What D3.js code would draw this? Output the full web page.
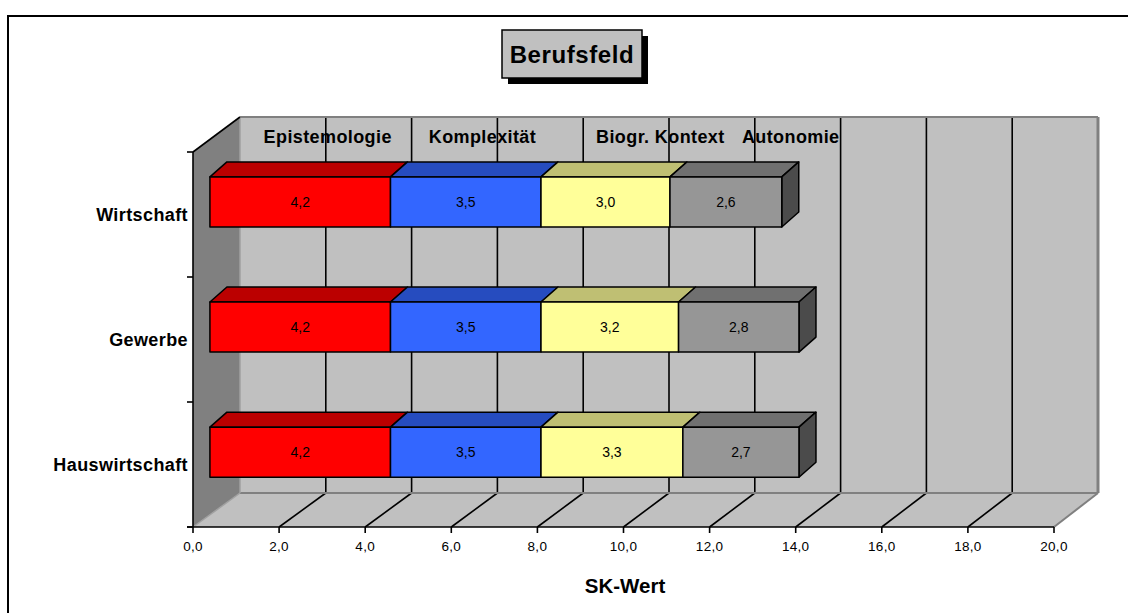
<!DOCTYPE html>
<html>
<head>
<meta charset="utf-8">
<script src="https://cdn.jsdelivr.net/npm/d3@7"></script>
<style>
  html, body { margin: 0; padding: 0; background: #fff; }
  svg { display: block; font-family: "Liberation Sans", Arial, sans-serif; }
</style>
</head>
<body>
<svg id="chart" width="1128" height="613"></svg>
<script>
// Categories (rows) and series values (stacked left to right)
const categories = ["Wirtschaft", "Gewerbe", "Hauswirtschaft"];
const seriesNames = ["Epistemologie", "Komplexität", "Biogr. Kontext", "Autonomie"];
const epistemologie = [4.2, 4.2, 4.2];
const komplexitaet = [3.5, 3.5, 3.5];
const biogrKontext = [3.0, 3.2, 3.3];
const autonomie = [2.6, 2.8, 2.7];
const xTicks = [0, 2, 4, 6, 8, 10, 12, 14, 16, 18, 20];
const xTickLabels = ["0,0", "2,0", "4,0", "6,0", "8,0", "10,0", "12,0", "14,0", "16,0", "18,0", "20,0"];

// Where the series names sit on the back wall (in axis units)
const seriesLabelAt = [0.55, 4.4, 8.3, 11.7];

const seriesValues = [epistemologie, komplexitaet, biogrKontext, autonomie];
const seriesFill = ["#ff0000", "#3366ff", "#ffff99", "#969696"];
const seriesTop  = ["#bb0000", "#264cbf", "#bfbf73", "#707070"];
const seriesSide = ["#800000", "#1a3380", "#80804d", "#4b4b4b"];

const svg = d3.select("#chart");

// Outer chart frame (continues past the visible area at right and bottom)
svg.append("rect")
  .attr("x", 8).attr("y", 16).attr("width", 1300).attr("height", 800)
  .attr("fill", "#fff").attr("stroke", "#000").attr("stroke-width", 2);

// 3D projection: front plane and back plane scales, interpolated by depth z
const xFront = d3.scaleLinear().domain([0, 20]).range([193, 1054]);
const xBack  = d3.scaleLinear().domain([0, 20]).range([240, 1098]);
const yFront = d3.scaleLinear().domain([0, 1]).range([152, 527]);
const yBack  = d3.scaleLinear().domain([0, 1]).range([117, 493]);
const band = d3.scaleBand().domain(categories).range([0, 1]).paddingInner(0.6).paddingOuter(0.3);

function P(v, f, z) {
  return [xFront(v) + (xBack(v) - xFront(v)) * z, yFront(f) + (yBack(f) - yFront(f)) * z];
}
const poly = pts => "M" + pts.map(p => p.join(",")).join("L") + "Z";
const [vMin, vMax] = xFront.domain();

const walls = svg.append("g");
// Left wall
walls.append("path")
  .attr("d", poly([P(vMin, 0, 0), P(vMin, 0, 1), P(vMin, 1, 1), P(vMin, 1, 0)]))
  .attr("fill", "#808080");
// Back wall
walls.append("path")
  .attr("d", poly([P(vMin, 0, 1), P(vMax, 0, 1), P(vMax, 1, 1), P(vMin, 1, 1)]))
  .attr("fill", "#c0c0c0");
// Floor
walls.append("path")
  .attr("d", poly([P(vMin, 1, 0), P(vMax, 1, 0), P(vMax, 1, 1), P(vMin, 1, 1)]))
  .attr("fill", "#c0c0c0");

// Gridlines: vertical on the back wall, diagonal on the floor
const inner = xTicks.filter(t => t > vMin && t < vMax);
walls.selectAll("line.gback").data(inner).join("line")
  .attr("x1", d => P(d, 0, 1)[0]).attr("y1", d => P(d, 0, 1)[1])
  .attr("x2", d => P(d, 1, 1)[0]).attr("y2", d => P(d, 1, 1)[1])
  .attr("stroke", "#000").attr("stroke-width", 1.6);
walls.selectAll("line.gfloor").data(inner).join("line")
  .attr("x1", d => P(d, 1, 0)[0]).attr("y1", d => P(d, 1, 0)[1])
  .attr("x2", d => P(d, 1, 1)[0]).attr("y2", d => P(d, 1, 1)[1])
  .attr("stroke", "#000").attr("stroke-width", 1.6);

// Wall edges
const edge = (a, b, color, w) => walls.append("line")
  .attr("x1", a[0]).attr("y1", a[1]).attr("x2", b[0]).attr("y2", b[1])
  .attr("stroke", color).attr("stroke-width", w);
edge(P(vMin, 0, 1), P(vMax, 0, 1), "#808080", 2);
edge(P(vMax, 0, 1), P(vMax, 1, 1), "#808080", 3);
edge(P(vMax, 1, 1), P(vMax, 1, 0), "#808080", 2);
edge(P(vMin, 1, 1), P(vMax, 1, 1), "#808080", 2);
edge(P(vMin, 0, 1), P(vMin, 1, 1), "#a0a0a0", 1.5);
edge(P(vMin, 1, 0), P(vMin, 1, 1), "#a0a0a0", 1.5);
edge(P(vMin, 0, 0), P(vMin, 0, 1), "#000", 1.6);

// Series names along the top of the back wall
svg.append("g").selectAll("text").data(seriesNames).join("text")
  .attr("x", (d, i) => P(seriesLabelAt[i], 0, 1)[0])
  .attr("y", P(0, 0, 1)[1] + 26)
  .attr("font-size", 18).attr("font-weight", "bold").attr("letter-spacing", 0.4)
  .attr("fill", "#000")
  .text(d => d);

// Stacked 3D bars
const zBar = 0.36;          // depth of the bar front face
const dX = 17, dY = -15;    // bar depth offset
const stackData = categories.map((c, ci) => {
  let acc = 0;
  return seriesValues.map((vals, si) => {
    const s = { cat: c, si, v0: acc, v1: acc + vals[ci], value: vals[ci] };
    acc += vals[ci];
    return s;
  });
});

const bars = svg.append("g");
stackData.forEach(row => {
  const g = bars.append("g");
  row.forEach((s, idx) => {
    const fTop = band(s.cat), fBot = band(s.cat) + band.bandwidth();
    const a = P(s.v0, fTop, zBar), b = P(s.v1, fTop, zBar);
    const c = P(s.v1, fBot, zBar), d = P(s.v0, fBot, zBar);
    // top face
    g.append("path")
      .attr("d", poly([a, b, [b[0] + dX, b[1] + dY], [a[0] + dX, a[1] + dY]]))
      .attr("fill", seriesTop[s.si])
      .attr("stroke", "#000").attr("stroke-width", 1.5).attr("stroke-linejoin", "round");
    // right end face on the last segment
    if (idx === row.length - 1) {
      g.append("path")
        .attr("d", poly([b, [b[0] + dX, b[1] + dY], [c[0] + dX, c[1] + dY], c]))
        .attr("fill", seriesSide[s.si])
        .attr("stroke", "#000").attr("stroke-width", 1.5).attr("stroke-linejoin", "round");
    }
    // front face
    g.append("path")
      .attr("d", poly([a, b, c, d]))
      .attr("fill", seriesFill[s.si])
      .attr("stroke", "#000").attr("stroke-width", 1.5).attr("stroke-linejoin", "round");
    // value label
    g.append("text")
      .attr("x", (a[0] + b[0]) / 2).attr("y", (a[1] + d[1]) / 2)
      .attr("text-anchor", "middle").attr("dy", "0.35em")
      .attr("font-size", 14).attr("fill", "#000")
      .text(d3.format(".1f")(s.value).replace(".", ","));
  });
});

// Axes
const axes = svg.append("g").attr("stroke", "#000").attr("stroke-width", 1.6);
axes.append("line")
  .attr("x1", xFront(vMin)).attr("y1", yFront(0))
  .attr("x2", xFront(vMin)).attr("y2", yFront(1));
axes.append("line")
  .attr("x1", xFront(vMin) - 6).attr("y1", yFront(1))
  .attr("x2", xFront(vMax)).attr("y2", yFront(1));
const yTickPos = d3.range(categories.length + 1).map(i => i / categories.length);
axes.selectAll("line.yt").data(yTickPos).join("line")
  .attr("x1", xFront(vMin) - 6).attr("x2", xFront(vMin))
  .attr("y1", d => yFront(d)).attr("y2", d => yFront(d));
axes.selectAll("line.xt").data(xTicks).join("line")
  .attr("x1", d => xFront(d)).attr("x2", d => xFront(d))
  .attr("y1", yFront(1)).attr("y2", yFront(1) + 6);

// Tick labels
svg.append("g").selectAll("text").data(xTicks).join("text")
  .attr("x", d => xFront(d)).attr("y", yFront(1) + 24)
  .attr("text-anchor", "middle").attr("font-size", 13.5).attr("letter-spacing", 0.3)
  .text((d, i) => xTickLabels[i]);

// Category labels
svg.append("g").selectAll("text").data(categories).join("text")
  .attr("x", xFront(vMin) - 5)
  .attr("y", d => yFront(band(d) + band.bandwidth() / 2))
  .attr("dy", "0.35em").attr("text-anchor", "end")
  .attr("font-size", 18).attr("font-weight", "bold").attr("letter-spacing", 0.4)
  .text(d => d);

// Axis title
svg.append("text")
  .attr("x", 625).attr("y", 593).attr("text-anchor", "middle")
  .attr("font-size", 20.5).attr("font-weight", "bold")
  .text("SK-Wert");

// Chart title with drop shadow box
const title = svg.append("g");
title.append("rect").attr("x", 508).attr("y", 36).attr("width", 140).attr("height", 48).attr("fill", "#000");
title.append("rect").attr("x", 502).attr("y", 30).attr("width", 140).attr("height", 48)
  .attr("fill", "#c0c0c0").attr("stroke", "#000").attr("stroke-width", 1.5);
title.append("text").attr("x", 572).attr("y", 63).attr("text-anchor", "middle")
  .attr("font-size", 24).attr("font-weight", "bold").attr("letter-spacing", 0.6)
  .text("Berufsfeld");
</script>
</body>
</html>
